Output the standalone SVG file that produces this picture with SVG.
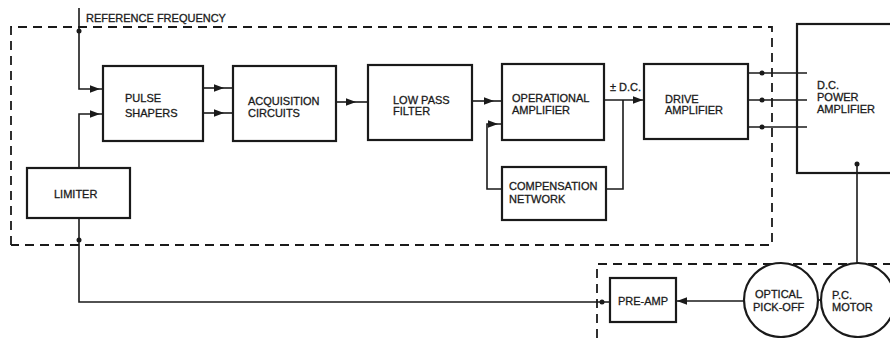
<svg xmlns="http://www.w3.org/2000/svg" width="890" height="338" viewBox="0 0 890 338">
<style>
  .box { fill: none; stroke: #1a1a1a; stroke-width: 2.2; }
  .circ { fill: #ffffff; stroke: #1a1a1a; stroke-width: 2.2; }
  .ln { fill: none; stroke: #1a1a1a; stroke-width: 1.6; }
  .dash { fill: none; stroke: #1a1a1a; stroke-width: 1.8; stroke-dasharray: 9 6; }
  .dot { fill: #1a1a1a; }
  .ah { fill: #1a1a1a; }
  text { font-family: "Liberation Sans", Arial, sans-serif; font-size: 11px; fill: #1a1a1a; stroke: #1a1a1a; stroke-width: 0.3; }
</style>
<defs>
  <path id="arrowR" d="M0 0 L-10 -3.8 L-10 3.8 Z"/>
  <path id="arrowL" d="M0 0 L10 -3.8 L10 3.8 Z"/>
</defs>
<rect width="890" height="338" fill="#ffffff"/>

<g id="boundaries">
  <path class="dash" d="M11 245 L11 27 L772 27 L772 245 L11 245"/>
  <path class="dash" d="M597 338 L597 264 L890 264"/>
</g>

<g id="connectors">
  <!-- reference frequency input -->
  <path class="ln" d="M79 8 L79 89 L103 89"/>
  <circle class="dot" cx="79" cy="31" r="2.5"/>
  <use href="#arrowR" class="ah" x="100" y="89"/>
  <!-- limiter to pulse shapers -->
  <path class="ln" d="M79 168 L79 114 L103 114"/>
  <use href="#arrowR" class="ah" x="100" y="114"/>
  <!-- pulse shapers to acquisition -->
  <path class="ln" d="M203 88 L233 88"/>
  <use href="#arrowR" class="ah" x="224" y="88"/>
  <path class="ln" d="M203 113 L233 113"/>
  <use href="#arrowR" class="ah" x="224" y="113"/>
  <!-- acquisition to low pass -->
  <path class="ln" d="M336 102 L368 102"/>
  <use href="#arrowR" class="ah" x="356" y="102"/>
  <!-- low pass to op amp -->
  <path class="ln" d="M472 101 L502 101"/>
  <use href="#arrowR" class="ah" x="494" y="101"/>
  <!-- compensation feedback -->
  <path class="ln" d="M502 189 L487 189 L487 124 L502 124"/>
  <use href="#arrowR" class="ah" x="498" y="124"/>
  <!-- op amp to drive amp -->
  <path class="ln" d="M604 100 L644 100"/>
  <use href="#arrowR" class="ah" x="643" y="100"/>
  <path class="ln" d="M623 100 L623 189 L606 189"/>
  <!-- drive amp to DC power amp -->
  <path class="ln" d="M748 73 L807 73"/>
  <path class="ln" d="M748 100 L807 100"/>
  <path class="ln" d="M748 127 L807 127"/>
  <circle class="dot" cx="762" cy="73" r="2.5"/>
  <circle class="dot" cx="762" cy="100" r="2.5"/>
  <circle class="dot" cx="762" cy="127" r="2.5"/>
  <!-- DC power amp to motor -->
  <path class="ln" d="M857 164 L857 263"/>
  <circle class="dot" cx="857" cy="164" r="2.5"/>
  <!-- limiter down to pre-amp -->
  <path class="ln" d="M79 218 L79 302 L610 302"/>
  <circle class="dot" cx="79" cy="240" r="2.5"/>
  <circle class="dot" cx="602" cy="302" r="2.5"/>
  <!-- pick-off to pre-amp -->
  <path class="ln" d="M744 301 L676 301"/>
  <use href="#arrowL" class="ah" x="677" y="301"/>
  <!-- pick-off to motor -->
  <path class="ln" d="M818 300 L821 300"/>
</g>

<g id="ref-label">
  <text x="86" y="22">REFERENCE FREQUENCY</text>
  <text x="610" y="91">± D.C.</text>
</g>

<g id="pulse-shapers">
  <rect class="box" x="103" y="66" width="100" height="75"/>
  <text x="125" y="102">PULSE</text>
  <text x="125" y="117">SHAPERS</text>
</g>

<g id="acquisition">
  <rect class="box" x="233" y="66" width="103" height="75"/>
  <text x="248" y="105">ACQUISITION</text>
  <text x="248" y="117">CIRCUITS</text>
</g>

<g id="low-pass">
  <rect class="box" x="368" y="65" width="104" height="75"/>
  <text x="393" y="104">LOW PASS</text>
  <text x="393" y="115">FILTER</text>
</g>

<g id="op-amp">
  <rect class="box" x="502" y="64" width="102" height="76"/>
  <text x="512" y="102">OPERATIONAL</text>
  <text x="512" y="114">AMPLIFIER</text>
</g>

<g id="compensation">
  <rect class="box" x="502" y="167" width="104" height="53"/>
  <text x="509" y="190">COMPENSATION</text>
  <text x="509" y="203">NETWORK</text>
</g>

<g id="drive-amp">
  <rect class="box" x="644" y="64" width="104" height="75"/>
  <text x="665" y="103">DRIVE</text>
  <text x="665" y="114">AMPLIFIER</text>
</g>

<g id="dc-power-amp">
  <rect class="box" x="797" y="24" width="110" height="149"/>
  <text x="817" y="89">D.C.</text>
  <text x="817" y="101">POWER</text>
  <text x="817" y="113">AMPLIFIER</text>
</g>

<g id="limiter">
  <rect class="box" x="27" y="168" width="103" height="50"/>
  <text x="54" y="198">LIMITER</text>
</g>

<g id="pre-amp">
  <rect class="box" x="610" y="278" width="66" height="44"/>
  <text x="618" y="305">PRE-AMP</text>
</g>

<g id="optical-pickoff">
  <circle class="circ" cx="781" cy="300" r="37"/>
  <text x="755" y="298">OPTICAL</text>
  <text x="753" y="311">PICK-OFF</text>
</g>

<g id="pc-motor">
  <circle class="circ" cx="858" cy="300" r="37"/>
  <text x="832" y="299">P.C.</text>
  <text x="832" y="311">MOTOR</text>
</g>
</svg>
